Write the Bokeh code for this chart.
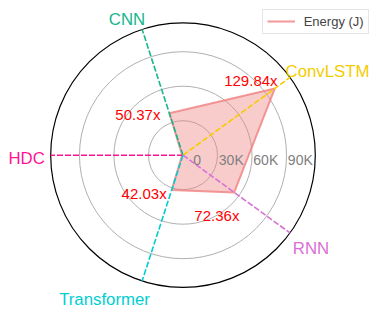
import numpy as np
from bokeh.plotting import figure
from bokeh.models import Range1d, Legend, LegendItem
from bokeh.core.properties import value
from bokeh.embed import file_html
from bokeh.resources import INLINE

# ---- data ----
categories = ["HDC", "CNN", "ConvLSTM", "RNN", "Transformer"]
energy = [760, 38300, 98700, 55000, 31900]
ratio_labels = ["", "50.37x", "129.84x", "72.36x", "42.03x"]
tick_values = [0, 30000, 60000, 90000]
tick_labels = ["0", "30K", "60K", "90K"]
axis_colors = ["#ff1493", "#16b68c", "#f5cc00", "#da70d6", "#00ced1"]
R_MAX = 115000

# ---- layout (pixels) ----
W, H = 378, 310
CX_PX, CY_PX_TOP = 182.5, 154.7   # centre of the radar inside the frame
R_PX = 132.3                       # pixel radius of the outer circle
S = R_MAX / R_PX                   # data units per pixel

n = len(categories)
theta = np.deg2rad(180 - 360.0 / n * np.arange(n))
cos_t, sin_t = np.cos(theta), np.sin(theta)

p = figure(width=W, height=H, output_backend="svg", toolbar_location=None,
           x_range=Range1d(-CX_PX * S, (W - CX_PX) * S),
           y_range=Range1d(-(H - CY_PX_TOP) * S, CY_PX_TOP * S),
           min_border=0, min_border_left=0, min_border_right=0,
           min_border_top=0, min_border_bottom=0)
p.axis.visible = False
p.grid.visible = False
p.outline_line_color = None
p.background_fill_color = "white"

FONT = value("Liberation Sans")

# grid rings
p.circle(x=[0] * 3, y=[0] * 3, radius=tick_values[1:], fill_color=None,
         line_color="#b0b0b0", line_width=1)
# outer circle
p.circle(x=[0], y=[0], radius=[R_MAX], fill_color=None,
         line_color="black", line_width=1.2)

# polygon
px = [e * c for e, c in zip(energy, cos_t)]
py = [e * s for e, s in zip(energy, sin_t)]
p.patch(px, py, fill_color="#f08080", fill_alpha=0.4, line_color=None)
edge = p.line(px + [px[0]], py + [py[0]], line_color="#f08080",
              line_alpha=0.8, line_width=2)

# dashed category axes
p.segment(x0=[0] * n, y0=[0] * n, x1=list(R_MAX * cos_t), y1=list(R_MAX * sin_t),
          line_color=axis_colors, line_width=1.6, line_dash="6 2")

# radial tick labels
tick_pad = [10.2, 1.3, 1.3, 1.3]
p.text(x=[t + pad * S for t, pad in zip(tick_values, tick_pad)],
       y=[-4.3 * S] * len(tick_values), text=tick_labels,
       text_color="#808080", text_font=FONT, text_font_size="14px",
       text_align="left", text_baseline="alphabetic")

# category labels (offsets in px from axis end, y down)
cat_off = [(-5.9, 3.6, "right"), (-15.1, -9.6, "center"), (-4.5, -6.2, "left"),
           (2.8, 15.8, "left"), (-37.6, 18.5, "center")]
for i in range(n):
    dx, dy, al = cat_off[i]
    p.text(x=[R_MAX * cos_t[i] + dx * S], y=[R_MAX * sin_t[i] - dy * S],
           text=[categories[i]], text_color=axis_colors[i], text_font=FONT,
           text_font_size="16.8px", text_align=al, text_baseline="alphabetic")

# ratio labels (offsets in px from vertex, y down)
rat_off = [None, (-9, 1.6, "right"), (2.7, -7.6, "right"),
           (-17.3, 23.3, "center"), (-5, 3, "right")]
for i in range(n):
    if not ratio_labels[i]:
        continue
    dx, dy, al = rat_off[i]
    p.text(x=[px[i] + dx * S], y=[py[i] - dy * S], text=[ratio_labels[i]],
           text_color="red", text_font=FONT, text_font_size="15px",
           text_align=al, text_baseline="alphabetic")

legend = Legend(items=[LegendItem(label="Energy (J)", renderers=[edge])],
                location=(261.7, 276.3))
legend.border_line_color = "#cccccc"
legend.border_line_width = 1
legend.background_fill_color = "white"
legend.background_fill_alpha = 1
legend.label_text_font = "Liberation Sans"
legend.label_text_font_size = "13px"
legend.glyph_width = 28
legend.glyph_height = 14
legend.label_height = 14
legend.padding = 4
legend.spacing = 0
legend.margin = 0
legend.label_standoff = 9
p.add_layout(legend)

open("out.html", "w").write(file_html(p, INLINE))
